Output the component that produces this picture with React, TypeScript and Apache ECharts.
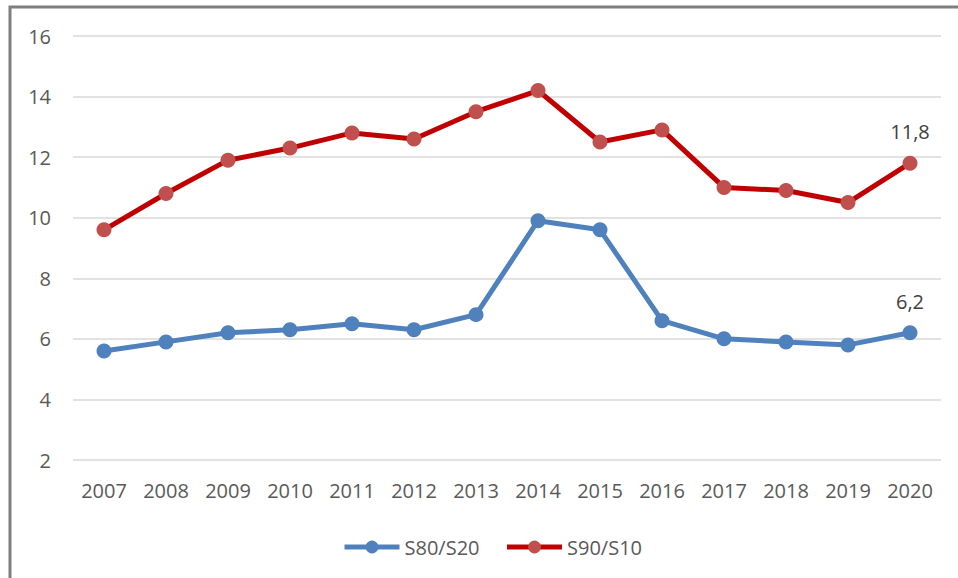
import React, { useEffect, useRef } from "react";
import * as echarts from "echarts";

const years = ["2007", "2008", "2009", "2010", "2011", "2012", "2013", "2014", "2015", "2016", "2017", "2018", "2019", "2020"];
const s80s20 = [5.6, 5.9, 6.2, 6.3, 6.5, 6.3, 6.8, 9.9, 9.6, 6.6, 6.0, 5.9, 5.8, 6.2];
const s90s10 = [9.6, 10.8, 11.9, 12.3, 12.8, 12.6, 13.5, 14.2, 12.5, 12.9, 11.0, 10.9, 10.5, 11.8];
const seriesNames = ["S80/S20", "S90/S10"];

const FONT = "'Open Sans', 'Liberation Sans', sans-serif";

function withLastLabel(arr: number[]) {
  return arr.map((v, i) =>
    i === arr.length - 1
      ? {
          value: v,
          label: {
            show: true,
            position: "top",
            distance: 14,
            fontSize: 20,
            fontFamily: FONT,
            color: "#404040",
            formatter: (p: any) => String(p.value).replace(".", ","),
          },
        }
      : v
  );
}

export default function App() {
  const ref = useRef<HTMLDivElement>(null);
  useEffect(() => {
    if (!ref.current) return;
    const chart = echarts.init(ref.current, undefined, { renderer: "svg" });
    chart.setOption({
      animation: false,
      backgroundColor: "#ffffff",
      textStyle: { fontFamily: FONT },
      grid: { left: 73, right: 17, top: 36, bottom: 118, containLabel: false },
      graphic: [
        {
          type: "rect",
          shape: { x: 10, y: 7, width: 1200, height: 1200 },
          style: { fill: "none", stroke: "#7f7f7f", lineWidth: 3 },
          silent: true,
        },
      ],
      legend: {
        data: [
          { name: seriesNames[0], lineStyle: { width: 5, color: "#4f81bd" }, itemStyle: { color: "#4f81bd" } },
          { name: seriesNames[1], lineStyle: { width: 5, color: "#c00000" }, itemStyle: { color: "#c0504d" } },
        ],
        left: 337,
        top: 532,
        itemWidth: 55,
        itemHeight: 16,
        itemGap: 25,
        textStyle: { fontSize: 20, color: "#595959", fontFamily: FONT },
      },
      xAxis: {
        type: "category",
        data: years,
        boundaryGap: true,
        axisLine: { show: false },
        axisTick: { show: false },
        axisLabel: { fontSize: 20, color: "#595959", margin: 20, fontFamily: FONT },
      },
      yAxis: {
        type: "value",
        min: 2,
        max: 16,
        interval: 2,
        axisLine: { show: false },
        axisTick: { show: false },
        axisLabel: { fontSize: 20, color: "#595959", margin: 22, fontFamily: FONT },
        splitLine: { lineStyle: { color: "#d9d9d9", width: 1.5 } },
      },
      series: [
        {
          name: seriesNames[0],
          type: "line",
          data: withLastLabel(s80s20),
          symbol: "circle",
          symbolSize: 15,
          lineStyle: { color: "#4f81bd", width: 5 },
          itemStyle: { color: "#4f81bd" },
        },
        {
          name: seriesNames[1],
          type: "line",
          data: withLastLabel(s90s10),
          symbol: "circle",
          symbolSize: 15,
          lineStyle: { color: "#c00000", width: 5 },
          itemStyle: { color: "#c0504d" },
        },
      ],
    });
    return () => chart.dispose();
  }, []);
  return (
    <div
      ref={ref}
      style={{ position: "fixed", left: 0, top: 0, width: 958, height: 578 }}
    />
  );
}
